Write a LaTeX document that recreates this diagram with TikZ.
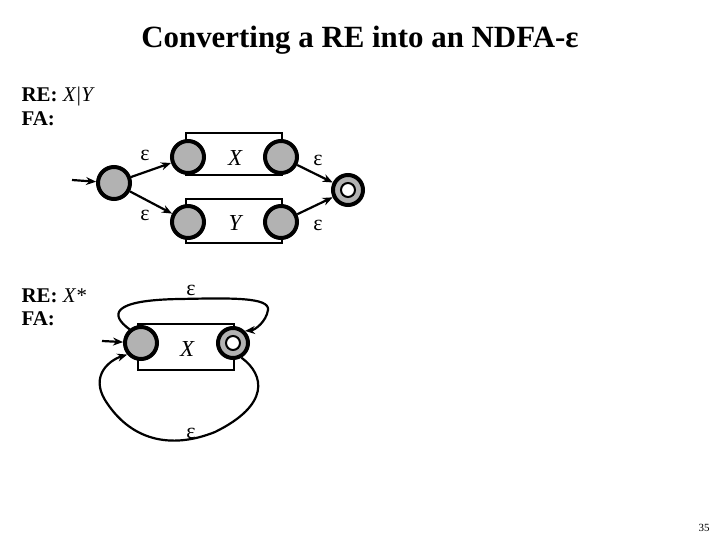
\documentclass[tikz,border=0pt]{standalone}
\usepackage{fontspec}
\setmainfont{Liberation Serif}
\usetikzlibrary{arrows.meta}
\begin{document}
\begin{tikzpicture}[x=1bp,y=-1bp,
  st/.style={circle,draw=black,line width=4bp,fill=gray!60,minimum size=32bp,inner sep=0pt},
  acc/.style={circle,draw=black,line width=4bp,fill=gray!60,minimum size=30bp,inner sep=0pt,
    path picture={\filldraw[white,draw=black,line width=2bp] (path picture bounding box.center) circle (7bp);}},
  tr/.style={line width=2.2bp,-{Stealth[length=10bp,width=8bp]}},
  eps/.style={font=\fontsize{22}{22}\selectfont},
  lbl/.style={font=\bfseries\fontsize{21}{22}\selectfont,anchor=west},
  box/.style={draw=black,line width=2.2bp}]
\useasboundingbox (0,0) rectangle (720,540);
\node[font=\bfseries\fontsize{31}{32}\selectfont] (title) at (360,40) {Converting a RE into an NDFA-ε};
\node[lbl] (re1) at (18,97) {RE: \mdseries\itshape X\textbar Y};
\node[lbl] (fa1) at (18,119) {FA:};
\node[lbl] (re2) at (18,296) {RE: \mdseries\itshape X*};
\node[lbl] (fa2) at (18,319) {FA:};
\node[font=\fontsize{11}{12}\selectfont] (pg) at (704,528) {35};
% upper
\draw[box] (186,133) rectangle (282,175);
\draw[box] (186,199) rectangle (282,243);
\node[st] (s0) at (114,183) {};
\node[st] (x1) at (188,157) {};
\node[st] (x2) at (281,157) {};
\node[st] (y1) at (188,222) {};
\node[st] (y2) at (281,222) {};
\node[acc] (f) at (348,190) {};
\node[font=\itshape\fontsize{23}{23}\selectfont] (xl) at (235,158) {X};
\node[font=\itshape\fontsize{23}{23}\selectfont] (yl) at (235,223) {Y};
\coordinate (in1) at (72,180);
\draw[tr] (in1) -- (s0);
\draw[tr] (s0) -- (x1);
\draw[tr] (s0) -- (y1);
\draw[tr] (x2) -- (f);
\draw[tr] (y2) -- (f);
\node[eps] (e1) at (145,155) {ε};
\node[eps] (e2) at (145,215) {ε};
\node[eps] (e3) at (318,160) {ε};
\node[eps] (e4) at (318,225) {ε};
% lower
\draw[box] (138,324) rectangle (234,370);
\node[st] (s1) at (141,343) {};
\node[acc] (f1) at (233,343) {};
\node[font=\itshape\fontsize{23}{23}\selectfont] (xl2) at (187,349) {X};
\coordinate (in2) at (102,341);
\draw[tr] (in2) -- (s1);
\draw[tr] (s1.130) .. controls (110,315) and (110,300) .. (180,299)
  .. controls (230,298) and (270,297) .. (268,310) .. controls (266,322) and (255,330) .. (f1.45);
\draw[tr] (f1.-60) .. controls (265,375) and (270,405) .. (215,432)
  .. controls (170,450) and (130,440) .. (105,400) .. controls (90,375) and (110,360) .. (s1.-140);
\node[eps] (e5) at (191,290) {ε};
\node[eps] (e6) at (191,433) {ε};
\end{tikzpicture}
\end{document}
